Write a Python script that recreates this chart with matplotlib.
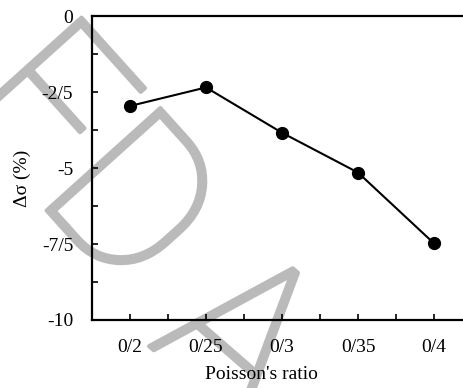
import matplotlib
matplotlib.use("Agg")
import matplotlib.pyplot as plt
import matplotlib.patheffects as pe
from matplotlib.ticker import FixedLocator, MultipleLocator

# Poisson's ratio sweep and the resulting stress change
ratio_labels = ["0/2", "0/25", "0/3", "0/35", "0/4"]
delta_sigma = [-2.96, -2.35, -3.84, -5.15, -7.48]

y_ticks = [0, -2.5, -5, -7.5, -10]
y_tick_labels = ["0", "-2/5", "-5", "-7/5", "-10"]

plt.rcParams["font.family"] = ["Liberation Serif", "DejaVu Serif"]

fig = plt.figure(figsize=(4.63, 3.88), dpi=100)

# faint stamp behind the plot, one letter at a time
stamp_color = "#bababa"
stamp_letters = [("F", -0.011, 0.613, -48),
                 ("D", 0.172, 0.363, -48),
                 ("A", 0.421, 0.005, -41)]
for letter, lx, ly, rot in stamp_letters:
    fig.text(lx, ly, letter, family="Roboto", weight="light", fontsize=155,
             color=stamp_color, rotation=rot, rotation_mode="anchor",
             ha="center", va="baseline", zorder=-1,
             path_effects=[pe.withStroke(linewidth=3, foreground=stamp_color)])

# right edge of the box runs past the figure edge
ax = fig.add_axes([92 / 463, 68 / 388, 380 / 463, 304 / 388])
ax.patch.set_visible(False)

x = list(range(len(ratio_labels)))
ax.plot(x, delta_sigma, color="black", linewidth=1.5, marker="o",
        markersize=8.5, clip_on=False)

ax.set_xlim(-0.5, len(ratio_labels) - 0.5)
ax.set_ylim(-10, 0)

ax.set_xticks(x)
ax.set_xticklabels(ratio_labels)
ax.xaxis.set_minor_locator(FixedLocator([i + 0.5 for i in x]))

ax.set_yticks(y_ticks)
ax.set_yticklabels(y_tick_labels)
ax.yaxis.set_minor_locator(MultipleLocator(1.25))

for s in ax.spines.values():
    s.set_linewidth(1.6)

ax.tick_params(which="both", direction="in", length=4.5, width=1.2,
               labelsize=14, top=False, right=False)
ax.tick_params(axis="x", pad=14)
ax.tick_params(axis="y", pad=13.5)

ax.set_xlabel("Poisson's ratio", fontsize=14)
ax.xaxis.set_label_coords(0.445, -0.152)
ax.set_ylabel("Δσ (%)", fontsize=14)
ax.yaxis.set_label_coords(-0.16, 0.467)

fig.savefig("out.png", dpi=100)
